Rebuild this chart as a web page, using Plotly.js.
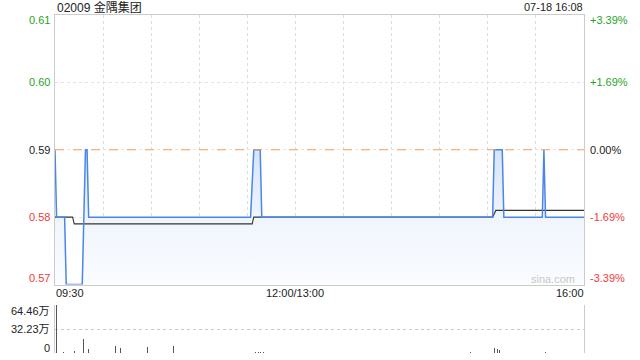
<!DOCTYPE html>
<html>
<head>
<meta charset="utf-8">
<script src="https://cdn.plot.ly/plotly-3.0.1.min.js"></script>
<style>html,body{margin:0;padding:0;background:#fff;}#chart{width:640px;height:360px;}</style>
</head>
<body>
<div id="chart"></div>
<script>
// ---- data (minutes from 09:30, lunch break removed) ----
const titleText = '02009 金隅集团';
const dateText = '07-18 16:08';
const prevClose = 0.59;

const priceTimes = [0, 1, 6, 7, 17, 19, 20, 21, 122, 124, 128, 129, 273, 274, 279, 280, 304, 305, 306, 330];
const priceValues = [0.59, 0.58, 0.58, 0.57, 0.57, 0.59, 0.59, 0.58, 0.58, 0.59, 0.59, 0.58, 0.58, 0.59, 0.59, 0.58, 0.58, 0.59, 0.58, 0.58];

const avgTimes = [0, 11, 12, 123, 124, 273, 275, 330];
const avgValues = [0.58, 0.58, 0.579, 0.579, 0.58, 0.58, 0.581, 0.581];

const volTimes = [1, 5, 8, 12, 18, 21, 33, 38, 41, 58, 74, 125, 127, 128, 130, 259, 274, 276, 277, 306];
const volValues = [64.46, 0.8, 0.5, 2.7, 18.8, 5.4, 0.6, 9.8, 7.1, 8.5, 9.8, 1.5, 1.7, 1.2, 1.0, 1.3, 7.1, 5.4, 4.0, 0.8];

const priceTicks = [0.57, 0.58, 0.59, 0.60, 0.61];
const priceTickText = ['0.57', '0.58', '0.59', '0.60', '0.61'];
const pctTickText = ['-3.39%', '-1.69%', '0.00%', '+1.69%', '+3.39%'];
const volTicks = [0, 32.23, 64.46];
const volTickText = ['0', '32.23万', '64.46万'];
const gridTimes = [0, 30, 60, 90, 120, 150, 180, 210, 240, 270, 300, 330];
const timeTickVals = [0, 150, 330];
const timeTickText = ['09:30', '12:00/13:00', '16:00'];

// ---- styling ----
const FONT = '"Liberation Sans", Arial, "Noto Sans CJK SC", sans-serif';
const GREEN = '#1fa51f', RED = '#f03b3b', BLACK = '#222';
const colorFor = v => Math.abs(v - prevClose) < 1e-9 ? BLACK : (v > prevClose ? GREEN : RED);

const traces = [
  { x: priceTimes, y: priceValues, xaxis: 'x', yaxis: 'y', type: 'scatter', mode: 'lines',
    line: { width: 0, shape: 'linear' }, fill: 'tozeroy',
    fillgradient: { type: 'vertical', start: 0.57, stop: 0.59,
      colorscale: [[0, 'rgb(250,252,255)'], [0.5, 'rgb(240,245,253)'], [1, 'rgb(214,228,250)']] },
    hoverinfo: 'skip', showlegend: false },
  { x: avgTimes, y: avgValues, xaxis: 'x', yaxis: 'y', type: 'scatter', mode: 'lines',
    line: { color: '#333333', width: 1.1 }, showlegend: false },
  { x: priceTimes, y: priceValues, xaxis: 'x', yaxis: 'y', type: 'scatter', mode: 'lines',
    line: { color: '#4a86e8', width: 1.5 }, showlegend: false },
  { x: volTimes, y: volValues, xaxis: 'x2', yaxis: 'y2', type: 'bar', width: 0.6,
    marker: { color: '#555555', line: { width: 0 } }, showlegend: false }
];

const annotations = [];
priceTicks.forEach((v, i) => {
  let ys = 0;
  if (i === priceTicks.length - 1) ys = -5;
  if (i === 0) ys = 7;
  annotations.push({ xref: 'paper', yref: 'y', x: 0, y: v, xanchor: 'right', yanchor: 'middle',
    xshift: -3, yshift: ys, showarrow: false, text: priceTickText[i],
    font: { family: FONT, size: 11, color: colorFor(v) } });
  annotations.push({ xref: 'paper', yref: 'y', x: 1, y: v, xanchor: 'left', yanchor: 'middle',
    xshift: 4, yshift: ys, showarrow: false, text: pctTickText[i],
    font: { family: FONT, size: 11, color: colorFor(v) } });
});
volTicks.forEach((v, i) => {
  let ys = 0;
  if (i === 0) ys = 5;
  if (i === volTicks.length - 1) ys = -6;
  annotations.push({ xref: 'paper', yref: 'y2', x: 0, y: v, xanchor: 'right', yanchor: 'middle',
    xshift: -3, yshift: ys, showarrow: false, text: volTickText[i],
    font: { family: FONT, size: 11, color: BLACK } });
});
timeTickVals.forEach((v, i) => {
  const anchor = i === 0 ? 'left' : (i === timeTickVals.length - 1 ? 'right' : 'center');
  annotations.push({ xref: 'x', yref: 'paper', x: v, y: (353 - 293) / 338, xanchor: anchor, yanchor: 'middle',
    xshift: anchor === 'left' ? -1 : (anchor === 'right' ? 2 : 0),
    showarrow: false, text: timeTickText[i], font: { family: FONT, size: 11, color: BLACK } });
});
annotations.push({ xref: 'paper', yref: 'paper', x: 0, y: 1, xanchor: 'left', yanchor: 'middle',
  yshift: 8, showarrow: false, text: titleText, font: { family: FONT, size: 12, color: BLACK } });
annotations.push({ xref: 'paper', yref: 'paper', x: 1, y: 1, xanchor: 'right', yanchor: 'middle',
  yshift: 8, xshift: 1, showarrow: false, text: dateText, font: { family: FONT, size: 11, color: BLACK } });
annotations.push({ xref: 'paper', yref: 'paper', x: (552.5 - 55) / 529, y: (353 - 279) / 338,
  xanchor: 'center', yanchor: 'middle', showarrow: false, text: 'sina.com',
  font: { family: FONT, size: 11, color: '#c8c8c8' } });

const layout = {
  width: 640, height: 360,
  margin: { l: 55, r: 56, t: 15, b: 7, pad: 0 },
  paper_bgcolor: '#ffffff', plot_bgcolor: '#ffffff',
  showlegend: false, bargap: 0,
  font: { family: FONT, size: 11, color: BLACK },
  xaxis: { domain: [0, 1], anchor: 'y', range: [0, 330], tickmode: 'array', tickvals: gridTimes,
    showticklabels: false, ticks: '', showgrid: true, gridcolor: '#dddddd', griddash: 'dot', gridwidth: 1,
    zeroline: false, showline: true, mirror: true, linecolor: '#cccccc', linewidth: 1, fixedrange: true },
  yaxis: { domain: [(353 - 284.5) / 338, 1], anchor: 'x', range: [0.57, 0.61], tickmode: 'array',
    tickvals: priceTicks, showticklabels: false, ticks: '', showgrid: true, gridcolor: '#e2e2e2',
    griddash: 'dot', zeroline: false, showline: true, mirror: true, linecolor: '#cccccc', linewidth: 1 },
  xaxis2: { domain: [0, 1], anchor: 'y2', range: [0, 330], matches: 'x', showticklabels: false, ticks: '',
    showgrid: false, zeroline: false, showline: false },
  yaxis2: { domain: [0, (353 - 305) / 338], anchor: 'x2', range: [0, 64.46], tickmode: 'array',
    tickvals: volTicks, showticklabels: false, ticks: '', showgrid: true, gridcolor: '#c8c8c8',
    griddash: 'dot', zeroline: false, showline: true, mirror: true, linecolor: '#cccccc', linewidth: 1 },
  shapes: [
    { type: 'line', xref: 'x', yref: 'y', x0: 0, x1: 330, y0: prevClose, y1: prevClose,
      line: { color: '#f2a066', width: 1, dash: 'dash' }, layer: 'above' }
  ],
  annotations: annotations
};

Plotly.newPlot('chart', traces, layout, { staticPlot: true, displayModeBar: false });
</script>
</body>
</html>
